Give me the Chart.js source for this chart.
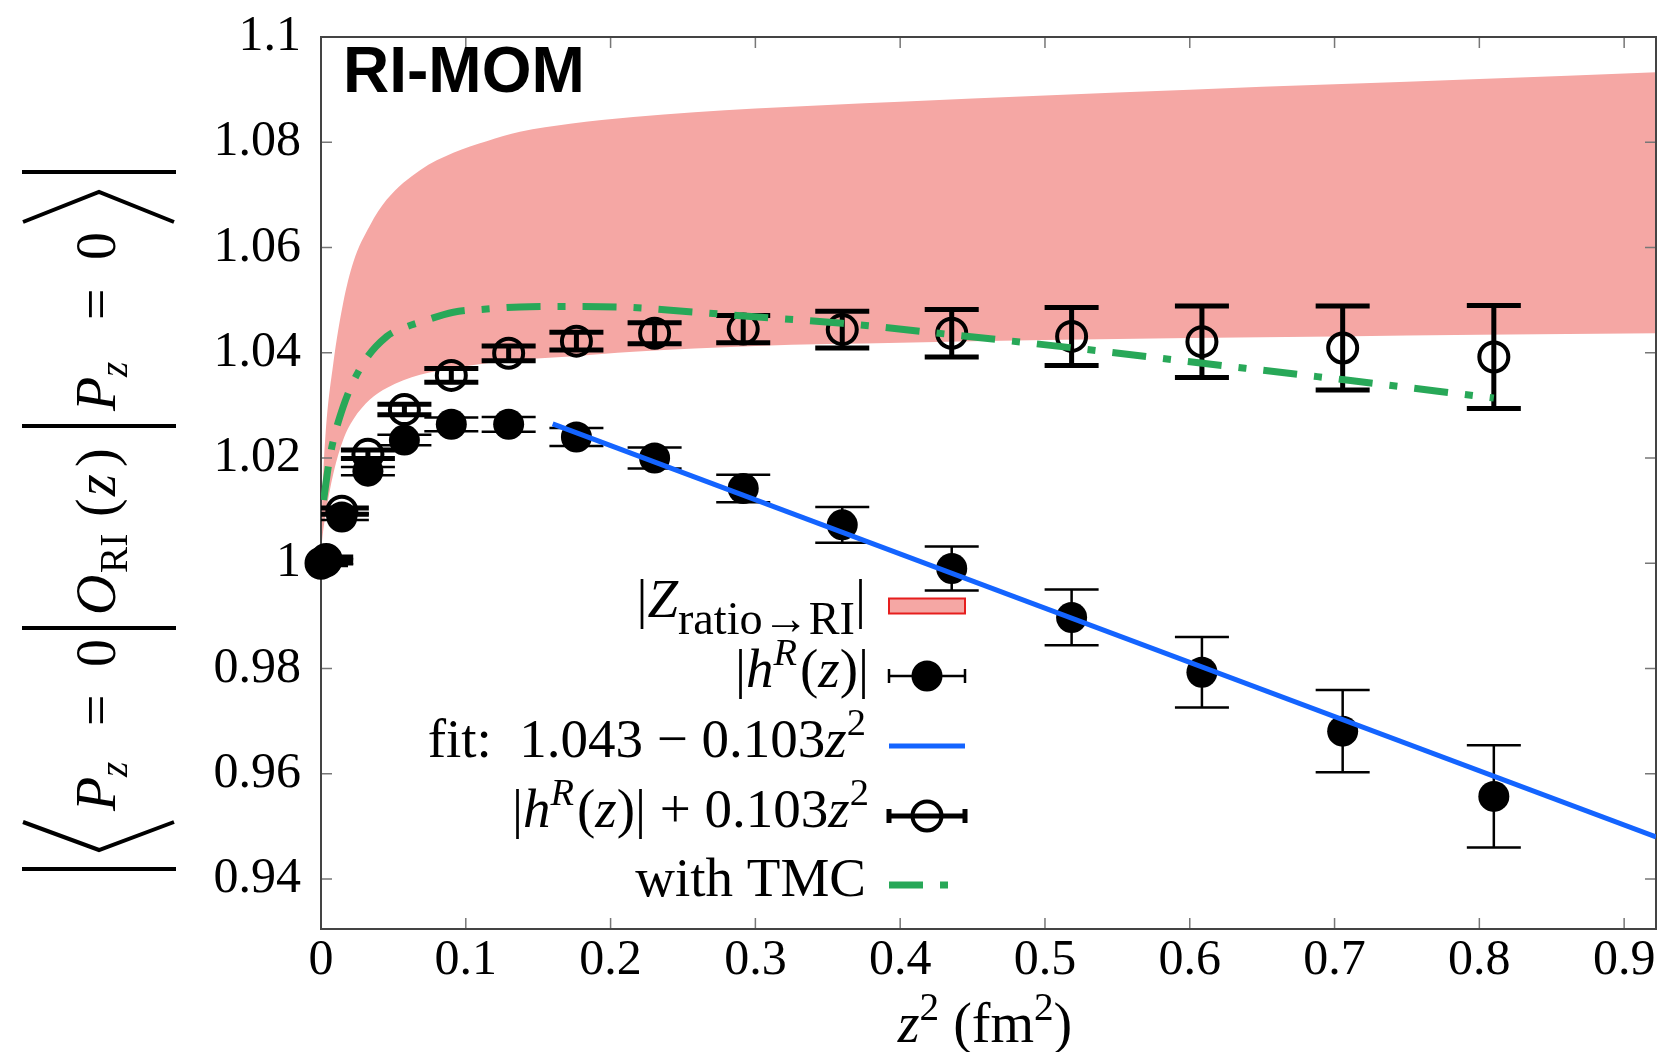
<!DOCTYPE html>
<html>
<head>
<meta charset="UTF-8">
<title>RI-MOM</title>
<script src="https://cdn.jsdelivr.net/npm/chart.js@4.4.1/dist/chart.umd.min.js"></script>
<style>
  body { margin: 0; background: #fff; }
</style>
</head>
<body>
<canvas id="myChart" width="1675" height="1052"></canvas>
<script>
// z^2 (fm^2) of the lattice points
const zSq = [0, 0.0036, 0.0144, 0.0324, 0.0576, 0.09, 0.1296, 0.1764, 0.2304, 0.2916, 0.36, 0.4356, 0.5184, 0.6084, 0.7056, 0.81];

// |h^R(z)|
const hR    = [1.0, 1.0003, 1.0088, 1.0175, 1.0234, 1.0264, 1.0264, 1.024, 1.020, 1.0142, 1.0073, 0.999, 0.9897, 0.9793, 0.9681, 0.9557];
const hRErr = [0.0003, 0.0005, 0.0006, 0.0008, 0.001, 0.0013, 0.0014, 0.0017, 0.002, 0.0026, 0.0034, 0.0042, 0.0053, 0.0067, 0.0078, 0.0097];

// |h^R(z)| + 0.103 z^2
const hRShift    = [1.0, 1.0007, 1.0099, 1.0207, 1.0292, 1.0357, 1.0399, 1.0422, 1.0437, 1.0445, 1.0444, 1.0437, 1.0431, 1.0421, 1.0409, 1.0392];
const hRShiftErr = [0.0003, 0.0005, 0.0006, 0.0008, 0.001, 0.0013, 0.0014, 0.0017, 0.002, 0.0026, 0.0035, 0.0045, 0.0055, 0.0068, 0.008, 0.0098];

// |Z ratio->RI| band
const bandX     = [0, 0.001, 0.003, 0.0085, 0.0154, 0.0223, 0.0338, 0.0454, 0.0684, 0.0914, 0.1144, 0.1374, 0.172, 0.2157, 0.3, 0.4, 0.5, 0.6, 0.7, 0.8, 0.922];
const bandUpper = [1.002, 1.013, 1.024, 1.038, 1.0496, 1.0572, 1.0642, 1.0691, 1.0747, 1.078, 1.0802, 1.082, 1.0835, 1.0848, 1.0864, 1.0877, 1.0889, 1.09, 1.091, 1.092, 1.0933];
const bandLower = [1.002, 1.005, 1.009, 1.017, 1.0235, 1.0273, 1.0311, 1.0333, 1.0358, 1.0371, 1.038, 1.0387, 1.0393, 1.0402, 1.0413, 1.0419, 1.0424, 1.0428, 1.0431, 1.0434, 1.0437];

// with TMC
const tmcX = [0.0018, 0.0062, 0.0154, 0.0292, 0.0454, 0.0569, 0.0684, 0.0914, 0.1144, 0.1374, 0.172, 0.2157, 0.25, 0.297, 0.36, 0.437, 0.52, 0.609, 0.7055, 0.81];
const tmcY = [1.012, 1.0203, 1.0298, 1.038, 1.0431, 1.0447, 1.0458, 1.0477, 1.0483, 1.0487, 1.0488, 1.0486, 1.0479, 1.0469, 1.0456, 1.0434, 1.0409, 1.038, 1.0349, 1.0314];

// fit: 1.043 - 0.103 z^2
const fitX = [0.16, 0.922];
const fitY = [1.0265, 0.948];

const xTickValues = [0, 0.1, 0.2, 0.3, 0.4, 0.5, 0.6, 0.7, 0.8, 0.9];
const xTickLabels = ['0', '0.1', '0.2', '0.3', '0.4', '0.5', '0.6', '0.7', '0.8', '0.9'];
const yTickValues = [0.94, 0.96, 0.98, 1.0, 1.02, 1.04, 1.06, 1.08, 1.1];
const yTickLabels = ['0.94', '0.96', '0.98', '1', '1.02', '1.04', '1.06', '1.08', '1.1'];

const legendLabels = [
  [{t: '|'}, {t: 'Z', i: 1}, {t: 'ratio\u2192RI', p: 'sub', k: 0.84}, {t: '|'}],
  [{t: '|'}, {t: 'h', i: 1}, {t: 'R', i: 1, p: 'sup'}, {t: '('}, {t: 'z', i: 1}, {t: ')|'}],
  [{t: 'fit:  1.043 \u2212 0.103'}, {t: 'z', i: 1}, {t: '2', p: 'sup'}],
  [{t: '|'}, {t: 'h', i: 1}, {t: 'R', i: 1, p: 'sup'}, {t: '('}, {t: 'z', i: 1}, {t: ')| + 0.103'}, {t: 'z', i: 1}, {t: '2', p: 'sup'}],
  [{t: 'with TMC'}]
];

const PINK = 'rgb(245,167,164)';
const BLUE = 'rgb(20,100,255)';
const GREEN = 'rgb(40,168,88)';
const TMC_DASH = [34, 17, 8, 17];
const SERIF = '"Liberation Serif", "DejaVu Serif", serif';

function pts(xs, ys) { return xs.map((x, i) => ({x: x, y: ys[i]})); }

function fontFor(s, size) {
  const sz = s.p ? size * (s.k || 0.7) : size;
  return (s.i ? 'italic ' : '') + sz + 'px ' + SERIF;
}

function drawRich(ctx, segs, x, y, size, align) {
  let w = 0;
  segs.forEach(s => { ctx.font = fontFor(s, size); w += ctx.measureText(s.t).width; });
  let cx = align === 'right' ? x - w : (align === 'center' ? x - w / 2 : x);
  ctx.textAlign = 'left';
  ctx.textBaseline = 'alphabetic';
  segs.forEach(s => {
    ctx.font = fontFor(s, size);
    const dy = s.p === 'sub' ? size * 0.3 : (s.p === 'sup' ? -size * 0.4 : 0);
    ctx.fillText(s.t, cx, y + dy);
    cx += ctx.measureText(s.t).width + (s.p === 'sup' && s.i ? 3 : 0);
  });
}

// error bars drawn under each point dataset
const errorBars = {
  id: 'errorBars',
  beforeDatasetDraw(chart, args) {
    const ds = chart.data.datasets[args.index];
    if (!ds.errors) return;
    const ctx = chart.ctx, xs = chart.scales.x, ys = chart.scales.y, a = chart.chartArea;
    ctx.save();
    ctx.beginPath();
    ctx.rect(a.left, a.top, a.right - a.left, a.bottom - a.top);
    ctx.clip();
    ctx.strokeStyle = '#000';
    ctx.lineWidth = ds.errLine;
    ds.data.forEach((p, i) => {
      const px = xs.getPixelForValue(p.x);
      const top = ys.getPixelForValue(p.y + ds.errors[i]);
      const bot = ys.getPixelForValue(p.y - ds.errors[i]);
      ctx.beginPath();
      ctx.moveTo(px, top); ctx.lineTo(px, bot);
      ctx.moveTo(px - ds.capHalf, top); ctx.lineTo(px + ds.capHalf, top);
      ctx.moveTo(px - ds.capHalf, bot); ctx.lineTo(px + ds.capHalf, bot);
      ctx.stroke();
    });
    ctx.restore();
  }
};

// frame and inward tick marks, drawn right after the band
const frame = {
  id: 'frame',
  afterDatasetDraw(chart, args) {
    if (args.index !== 1) return;
    const ctx = chart.ctx, a = chart.chartArea, xs = chart.scales.x, ys = chart.scales.y;
    ctx.save();
    ctx.strokeStyle = '#777';
    ctx.lineWidth = 1.5;
    ctx.beginPath();
    yTickValues.forEach(v => {
      const py = ys.getPixelForValue(v);
      ctx.moveTo(a.left, py); ctx.lineTo(a.left + 11, py);
      ctx.moveTo(a.right, py); ctx.lineTo(a.right - 11, py);
    });
    xTickValues.forEach(v => {
      const px = xs.getPixelForValue(v);
      ctx.moveTo(px, a.bottom); ctx.lineTo(px, a.bottom - 11);
      ctx.moveTo(px, a.top); ctx.lineTo(px, a.top + 11);
    });
    ctx.stroke();
    ctx.strokeStyle = '#444';
    ctx.lineWidth = 2;
    ctx.strokeRect(a.left, a.top, a.right - a.left, a.bottom - a.top);
    ctx.restore();
  }
};

const decor = {
  id: 'decor',
  afterDraw(chart) {
    const ctx = chart.ctx;
    ctx.save();
    ctx.fillStyle = '#000';
    ctx.strokeStyle = '#000';

    // panel title
    ctx.font = 'bold 64px "Liberation Sans", Arial, sans-serif';
    ctx.textAlign = 'left';
    ctx.textBaseline = 'alphabetic';
    ctx.fillText('RI-MOM', 343, 92);

    // legend
    const rowY = [606, 676, 746, 816, 885];
    const sx0 = 889, sx1 = 965, sxc = 927;
    legendLabels.forEach((segs, k) => drawRich(ctx, segs, 866, rowY[k] + 11, 55, 'right'));

    ctx.fillStyle = PINK;
    ctx.fillRect(sx0, rowY[0] - 7.5, sx1 - sx0, 15);
    ctx.strokeStyle = 'rgb(230,30,30)';
    ctx.lineWidth = 2;
    ctx.strokeRect(sx0, rowY[0] - 7.5, sx1 - sx0, 15);

    ctx.strokeStyle = '#000';
    ctx.fillStyle = '#000';
    ctx.lineWidth = 2.5;
    ctx.beginPath();
    ctx.moveTo(sx0, rowY[1]); ctx.lineTo(sx1, rowY[1]);
    ctx.moveTo(sx0, rowY[1] - 7); ctx.lineTo(sx0, rowY[1] + 7);
    ctx.moveTo(sx1, rowY[1] - 7); ctx.lineTo(sx1, rowY[1] + 7);
    ctx.stroke();
    ctx.beginPath(); ctx.arc(sxc, rowY[1], 15.5, 0, 2 * Math.PI); ctx.fill();

    ctx.strokeStyle = BLUE;
    ctx.lineWidth = 5;
    ctx.beginPath(); ctx.moveTo(sx0, rowY[2]); ctx.lineTo(sx1, rowY[2]); ctx.stroke();

    ctx.strokeStyle = '#000';
    ctx.lineWidth = 5;
    ctx.beginPath();
    ctx.moveTo(sx0, rowY[3]); ctx.lineTo(sx1, rowY[3]);
    ctx.moveTo(sx0, rowY[3] - 7); ctx.lineTo(sx0, rowY[3] + 7);
    ctx.moveTo(sx1, rowY[3] - 7); ctx.lineTo(sx1, rowY[3] + 7);
    ctx.stroke();
    ctx.lineWidth = 4;
    ctx.beginPath(); ctx.arc(sxc, rowY[3], 14.5, 0, 2 * Math.PI); ctx.stroke();

    ctx.strokeStyle = GREEN;
    ctx.lineWidth = 7;
    ctx.setLineDash(TMC_DASH);
    ctx.beginPath(); ctx.moveTo(sx0, rowY[4]); ctx.lineTo(sx1, rowY[4]); ctx.stroke();
    ctx.setLineDash([]);

    // x axis title
    ctx.fillStyle = '#000';
    drawRich(ctx, [{t: 'z', i: 1}, {t: '2', p: 'sup'}, {t: ' (fm'}, {t: '2', p: 'sup'}, {t: ')'}], 985, 1042, 56, 'center');

    // y axis title, rotated: |< Pz = 0 | O_RI(z) | Pz = 0 >|
    ctx.translate(115, 869);
    ctx.rotate(-Math.PI / 2);
    ctx.strokeStyle = '#000';
    ctx.lineWidth = 4;
    [0, 241, 443, 697].forEach(u => {
      ctx.beginPath(); ctx.moveTo(u, -93); ctx.lineTo(u, 61); ctx.stroke();
    });
    ctx.beginPath(); ctx.moveTo(47, -92); ctx.lineTo(19, -16); ctx.lineTo(47, 59); ctx.stroke();
    ctx.beginPath(); ctx.moveTo(647, -92); ctx.lineTo(677, -16); ctx.lineTo(647, 59); ctx.stroke();
    const S = 56;
    const tok = (t, u, it, sub) => {
      ctx.font = (it ? 'italic ' : '') + (sub ? S * 0.7 : S) + 'px ' + SERIF;
      ctx.fillText(t, u, sub ? 12 : 0);
    };
    ctx.textAlign = 'left';
    ctx.textBaseline = 'alphabetic';
    tok('P', 58, 1); tok('z', 92, 1, 1); tok('=', 143); tok('0', 202);
    tok('O', 254, 1); tok('RI', 296, 0, 1); tok('(', 352); tok('z', 373, 1); tok(')', 402);
    tok('P', 458, 1); tok('z', 492, 1, 1); tok('=', 549); tok('0', 609);
    ctx.restore();
  }
};

const config = {
  type: 'scatter',
  data: {
    datasets: [
      {
        label: 'band upper',
        data: pts(bandX, bandUpper),
        showLine: true, pointRadius: 0,
        borderColor: 'rgba(0,0,0,0)', borderWidth: 1,
        backgroundColor: PINK,
        fill: '+1',
        cubicInterpolationMode: 'monotone',
        order: 10
      },
      {
        label: 'band lower',
        data: pts(bandX, bandLower),
        showLine: true, pointRadius: 0,
        borderColor: 'rgba(0,0,0,0)', borderWidth: 1,
        fill: false,
        cubicInterpolationMode: 'monotone',
        order: 9
      },
      {
        label: '|h^R(z)|',
        data: pts(zSq, hR),
        errors: hRErr, errLine: 2.5, capHalf: 27,
        showLine: false,
        pointRadius: 15.5, pointBackgroundColor: '#000', pointBorderWidth: 0,
        clip: false,
        order: 8
      },
      {
        label: 'fit',
        data: pts(fitX, fitY),
        showLine: true, pointRadius: 0,
        borderColor: BLUE, borderWidth: 5,
        fill: false,
        order: 7
      },
      {
        label: '|h^R(z)| + 0.103z^2',
        data: pts(zSq, hRShift),
        errors: hRShiftErr, errLine: 5, capHalf: 27,
        showLine: false,
        pointRadius: 14.5, pointBackgroundColor: 'rgba(0,0,0,0)',
        pointBorderColor: '#000', pointBorderWidth: 4,
        clip: false,
        order: 6
      },
      {
        label: 'with TMC',
        data: pts(tmcX, tmcY),
        showLine: true, pointRadius: 0,
        borderColor: GREEN, borderWidth: 7,
        borderDash: TMC_DASH,
        cubicInterpolationMode: 'monotone',
        fill: false,
        order: 5
      }
    ]
  },
  options: {
    responsive: false,
    animation: false,
    events: [],
    layout: { padding: { left: 0, top: 37, right: 19, bottom: 0 } },
    plugins: { legend: { display: false }, tooltip: { enabled: false } },
    scales: {
      x: {
        type: 'linear', min: 0, max: 0.922,
        afterBuildTicks: s => { s.ticks = xTickValues.map(v => ({value: v})); },
        afterFit: s => { s.height = 123; s.paddingLeft = 0; s.paddingRight = 0; },
        grid: { display: false, drawTicks: false, tickLength: 0 },
        border: { display: false },
        ticks: {
          callback: (v, i) => xTickLabels[i],
          font: { family: SERIF, size: 50 },
          color: '#000', padding: 2, maxRotation: 0, autoSkip: false
        }
      },
      y: {
        type: 'linear', min: 0.9305, max: 1.1,
        afterBuildTicks: s => { s.ticks = yTickValues.map(v => ({value: v})); },
        afterFit: s => { s.width = 321; s.paddingTop = 0; s.paddingBottom = 0; },
        grid: { display: false, drawTicks: false, tickLength: 0 },
        border: { display: false },
        ticks: {
          callback: (v, i) => yTickLabels[i],
          font: { family: SERIF, size: 50 },
          color: '#000', padding: 20, autoSkip: false
        }
      }
    }
  },
  plugins: [errorBars, frame, decor]
};

const myChart = new Chart(document.getElementById('myChart'), config);
</script>
</body>
</html>
